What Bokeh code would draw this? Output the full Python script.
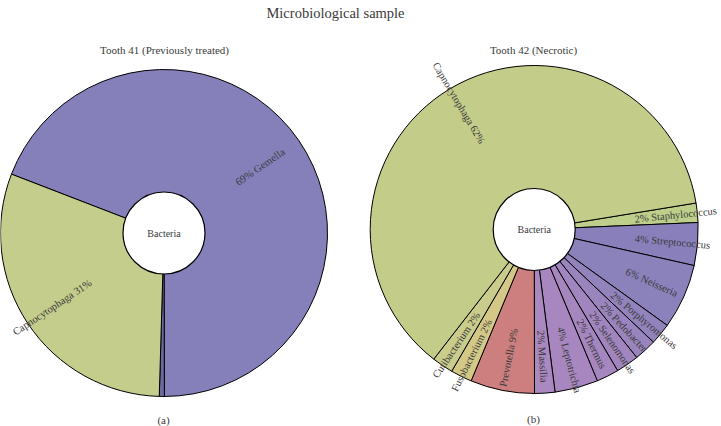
import numpy as np
from bokeh.plotting import figure
from bokeh.models import Range1d, ColumnDataSource
from bokeh.core.properties import value
from bokeh.embed import file_html
from bokeh.resources import INLINE

# ---------------- data ----------------
title = "Microbiological sample"

left_title = "Tooth 41 (Previously treated)"
left_names = ["Gemella", "(other)", "Capnocytophaga"]
left_shares = [69.1, 0.5, 30.4]            # share of the circle
left_labels = ["69% Gemella", "", "Capnocytophaga 31%"]
left_colors = ["#8580BA", "#6C679E", "#C5CD8C"]

right_title = "Tooth 42 (Necrotic)"
right_names = ["Staphylococcus", "Streptococcus", "Neisseria", "Porphyromonas",
               "Pedobacter", "Selenomonas", "Thermus", "Leptotrichia", "Massilia",
               "Prevotella", "Fusobacterium", "Cutibacterium", "Capnocytophaga"]
right_shares = [1.9, 4.2, 6.4, 2.1, 2.2, 2.25, 2.2, 4.25, 2.0, 6.3, 2.1, 2.1, 61.8]
right_labels = ["2% Staphylococcus", "4% Streptococcus", "6% Neisseria", "2% Porphyromonas",
                "2% Pedobacter", "2% Selenomonas", "2% Thermus", "4% Leptotrichia",
                "2% Massilia", "Prevotella 9%", "Fusobacterium 2%", "Cutibacterium 2%",
                "Capnocytophaga 62%"]
right_colors = ["#BDCF8B", "#8980BB", "#8B82BC", "#9383BD", "#9A84BE", "#A085BF",
                "#A586BF", "#A887C0", "#AA88C0", "#CD7F7F", "#D3C886", "#C9CC8A", "#C4CC8A"]

W, H = 721, 426
FONT = "Liberation Serif"
TXT = "#3a3a3a"

p = figure(width=W, height=H, x_range=Range1d(0, W), y_range=Range1d(0, H),
           output_backend="svg", toolbar_location=None, min_border=0)
p.axis.visible = False
p.grid.visible = False
p.outline_line_color = None
p.background_fill_color = "white"
p.border_fill_color = "white"


def donut(cx, cy, r_out, r_in, start_deg, shares, labels, colors, label_r):
    shares = np.asarray(shares, dtype=float)
    spans = shares / shares.sum() * 2 * np.pi
    top = np.deg2rad(start_deg) - np.concatenate([[0], np.cumsum(spans)[:-1]])
    bottom = top - spans
    src = ColumnDataSource(dict(x=[cx] * len(spans), y=[cy] * len(spans),
                                start=bottom, end=top, color=colors))
    p.wedge(x="x", y="y", radius=r_out, start_angle="start", end_angle="end",
            fill_color="color", line_color="black", line_width=1, source=src)
    p.scatter(x=[cx], y=[cy], size=2 * r_in, marker="circle",
              fill_color="white", line_color="black", line_width=1.2)
    # labels, radial, starting at label_r
    mid = (top + bottom) / 2
    mid = np.mod(mid, 2 * np.pi)
    right_side = (mid < np.pi / 2) | (mid > 3 * np.pi / 2)
    lx = cx + label_r * np.cos(mid)
    ly = cy + label_r * np.sin(mid)
    for i, lab in enumerate(labels):
        if not lab:
            continue
        if right_side[i]:
            ang, align = mid[i], "left"
        else:
            ang, align = mid[i] - np.pi, "right"
        p.text(x=[lx[i]], y=[ly[i]], text=[lab], angle=ang, text_align=align,
               text_baseline="middle", text_font=value(FONT),
               text_font_size="10.5px", text_color=TXT)
    p.text(x=[cx], y=[cy], text=["Bacteria"], text_align="center",
           text_baseline="middle", text_font=value(FONT),
           text_font_size="10px", text_color=TXT)


donut(163.5, H - 232.5, 163.5, 41, 158.9, left_shares, left_labels, left_colors, 88)
donut(533.7, H - 229.0, 164, 41, 9.3, right_shares, right_labels, right_colors, 101)

p.text(x=[335], y=[H - 12], text=[title], text_align="center", text_baseline="middle",
       text_font=value(FONT), text_font_size="14.5px", text_color=TXT)
p.text(x=[164], y=[H - 49], text=[left_title], text_align="center", text_baseline="middle",
       text_font=value(FONT), text_font_size="11px", text_color=TXT)
p.text(x=[533], y=[H - 49], text=[right_title], text_align="center", text_baseline="middle",
       text_font=value(FONT), text_font_size="11px", text_color=TXT)
p.text(x=[163], y=[H - 419], text=["(a)"], text_align="center", text_baseline="middle",
       text_font=value(FONT), text_font_size="11px", text_color=TXT)
p.text(x=[533], y=[H - 418], text=["(b)"], text_align="center", text_baseline="middle",
       text_font=value(FONT), text_font_size="11px", text_color=TXT)

open("out.html", "w").write(file_html(p, INLINE))
